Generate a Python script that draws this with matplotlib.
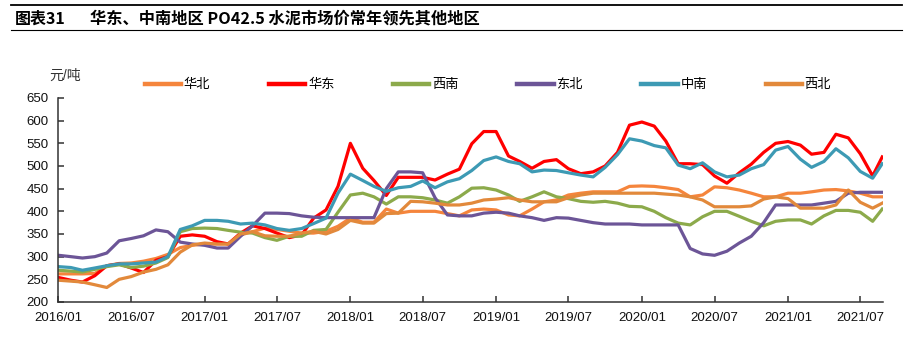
import matplotlib
matplotlib.use('Agg')
import matplotlib.dates as mdates
import pandas as pd
from matplotlib import pyplot as plt

plt.rcParams['font.family'] = ['Liberation Sans', 'Noto Sans CJK SC']

# monthly samples 2016/01 .. 2021/08, plus the last weekly print
dates = list(pd.date_range('2016-01-01', '2021-08-01', freq='MS')) + [pd.Timestamp('2021-08-25')]

north_china = [
    262, 262, 262, 263, 280, 285, 286, 290, 296, 305, 320, 325,
    328, 328, 328, 348, 355, 363, 360, 356, 352, 352, 356, 367,
    385, 376, 376, 405, 396, 400, 400, 400, 395, 390, 403, 405,
    403, 392, 390, 405, 421, 425, 436, 440, 443, 443, 443, 455,
    456, 455, 452, 448, 432, 436, 454, 452, 447, 440, 432, 432,
    440, 440, 443, 447, 448, 445, 440, 432, 432,
]
east_china = [
    254, 248, 244, 258, 280, 284, 275, 265, 292, 300, 345, 348,
    345, 333, 328, 352, 368, 362, 352, 342, 348, 385, 403, 455,
    550, 495, 468, 435, 475, 475, 475, 469, 482, 493, 549, 576,
    576, 522, 510, 495, 510, 514, 494, 483, 487, 500, 530, 590,
    597, 588, 555, 505, 505, 503, 478, 462, 485, 504, 530, 550,
    554, 546, 526, 530, 570, 562, 527, 478, 520,
]
southwest = [
    270, 268, 266, 272, 278, 282, 276, 279, 286, 298, 355, 362,
    363, 362, 358, 354, 352, 342, 336, 345, 345, 358, 360, 398,
    436, 440, 432, 416, 432, 432, 430, 425, 418, 432, 451, 452,
    447, 436, 422, 432, 443, 432, 428, 422, 420, 422, 418, 411,
    410, 400, 386, 374, 370, 388, 400, 400, 389, 378, 368, 378,
    381, 381, 372, 390, 402, 402, 398, 378, 405,
]
northeast = [
    303, 300, 297, 300, 308, 335, 340, 346, 359, 355, 332, 328,
    325, 319, 319, 345, 368, 396, 396, 395, 390, 387, 386, 386,
    386, 386, 386, 450, 487, 487, 485, 430, 392, 390, 390, 396,
    398, 396, 390, 386, 380, 386, 385, 380, 375, 372, 372, 372,
    370, 370, 370, 370, 318, 306, 303, 312, 330, 345, 375, 414,
    414, 414, 414, 418, 422, 440, 442, 442, 442,
]
central_south = [
    278, 276, 270, 275, 280, 284, 284, 286, 288, 300, 360, 368,
    380, 380, 378, 372, 374, 370, 362, 358, 362, 373, 385, 440,
    482, 468, 455, 444, 452, 455, 467, 452, 465, 472, 490, 512,
    520, 510, 505, 487, 491, 490, 485, 480, 476, 497, 525, 560,
    555, 545, 540, 502, 494, 507, 487, 476, 480, 494, 503, 535,
    543, 515, 497, 510, 538, 518, 488, 473, 505,
]
northwest = [
    248, 246, 244, 238, 232, 250, 256, 266, 272, 282, 310, 326,
    330, 328, 328, 350, 355, 346, 345, 345, 352, 356, 350, 360,
    380, 374, 374, 395, 396, 422, 421, 418, 414, 414, 418, 425,
    427, 430, 425, 421, 421, 421, 430, 436, 440, 440, 440, 440,
    440, 440, 438, 436, 432, 425, 410, 410, 410, 412, 427, 432,
    428, 407, 407, 407, 414, 447, 420, 407, 418,
]

series = [
    ('华北', north_china, '#F5853C'),
    ('华东', east_china, '#FF0000'),
    ('西南', southwest, '#8CAA4B'),
    ('东北', northeast, '#6C5597'),
    ('中南', central_south, '#3D9AB4'),
    ('西北', northwest, '#E2893B'),
]

fig = plt.figure(figsize=(9.11, 3.46), dpi=100)
ax = fig.add_axes([0.0642, 0.1272, 0.9051, 0.5896])

for name, values, colour in series:
    ax.plot(dates, values, color=colour, lw=2.3, label=name, solid_joinstyle='round')

ax.set_ylim(200, 650)
ax.set_yticks(range(200, 651, 50))
ax.set_xlim(pd.Timestamp('2016-01-01'), pd.Timestamp('2021-08-27'))
ax.xaxis.set_major_locator(mdates.MonthLocator(bymonth=(1, 7)))
ax.xaxis.set_major_formatter(mdates.DateFormatter('%Y/%m'))

for side in ('top', 'right'):
    ax.spines[side].set_visible(False)
for side in ('left', 'bottom'):
    ax.spines[side].set_color('#333333')
    ax.spines[side].set_linewidth(1.1)
ax.tick_params(direction='in', length=4, width=1.1, color='#333333',
               labelsize=9.5, labelcolor='#111111')
ax.tick_params(axis='y', pad=7)
ax.tick_params(axis='x', pad=7)

ax.legend(
    loc='center left', bbox_to_anchor=(0.159, 0.754), bbox_transform=fig.transFigure,
    ncol=6, frameon=False, fontsize=9.5, handlelength=2.75, handletextpad=0.2,
    columnspacing=4.45, borderpad=0, borderaxespad=0,
)
for line in ax.get_legend().get_lines():
    line.set_linewidth(3.2)

fig.text(0.054, 0.781, '元/吨', fontsize=10, color='#333333', va='center')

# heading band
fig.add_artist(plt.Line2D([0.012, 0.99], [0.9855, 0.9855], color='black', lw=1.3,
                          transform=fig.transFigure))
fig.add_artist(plt.Line2D([0.012, 0.99], [0.913, 0.913], color='black', lw=0.8,
                          transform=fig.transFigure))
fig.text(0.016, 0.946, '图表31', fontsize=11.5, fontweight='bold', va='center',
         family=['Noto Sans CJK SC', 'DejaVu Sans'])
fig.text(0.099, 0.946, '华东、中南地区 PO42.5 水泥市场价常年领先其他地区', fontsize=11.7,
         fontweight='bold', va='center', family=['Noto Sans CJK SC', 'DejaVu Sans'])

fig.savefig('out.png', dpi=100)
